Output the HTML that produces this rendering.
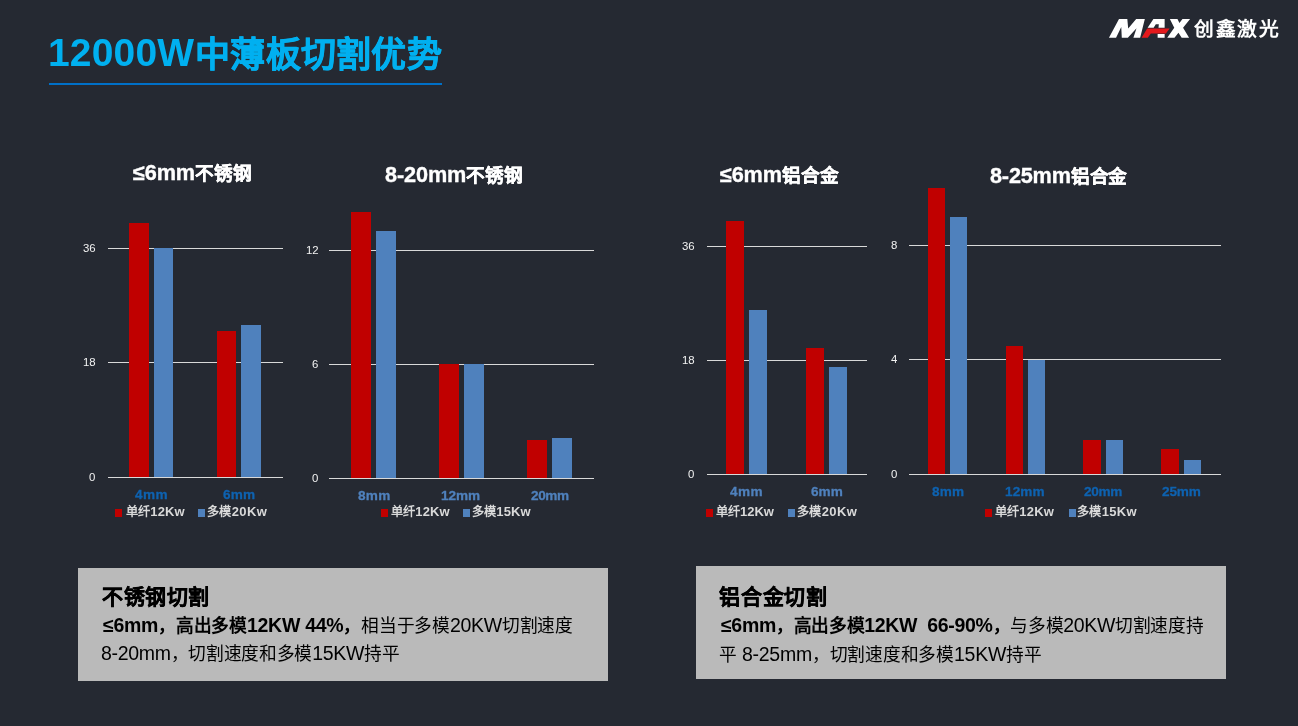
<!DOCTYPE html>
<html lang="zh-CN">
<head>
<meta charset="utf-8">
<style>
*{margin:0;padding:0;box-sizing:border-box}
html,body{width:1298px;height:726px;overflow:hidden;background:#252932}
body{position:relative;font-family:"Liberation Sans",sans-serif;color:#fff}
.a{position:absolute}
.t{white-space:nowrap;line-height:1;will-change:transform}
.gl{height:1px;background:#d9d9d9}
.box{background:#bababa}
</style>
</head>
<body>
<div class="a" style="left:49px;top:83px;width:393px;height:2px;background:#0070c8"></div>
<svg class="a" style="left:1100px;top:10px" width="100" height="40" viewBox="0 0 100 40"><path fill="#fff" fill-rule="evenodd" d="M8.95,27.84 L19.00,8.95 L27.32,8.95 L28.19,18.48 L36.17,8.95 L44.83,8.95 L40.15,27.84 L33.39,27.84 L36.51,18.14 L27.84,27.84 L21.78,27.84 L21.26,17.10 L16.06,27.84 Z M47.61,17.82 L53.42,9.00 L64.64,9.00 L64.64,17.82 Z M55.83,14.21 L58.83,14.21 L58.51,17.82 L53.62,17.82 Z M57.63,24.03 L64.64,24.03 L64.64,27.84 L57.63,27.84 Z M69.85,9.00 L77.46,9.00 L79.46,13.01 L82.47,9.00 L90.08,9.00 L83.07,17.82 L89.08,27.84 L81.67,27.84 L78.46,22.83 L74.46,27.84 L67.24,27.84 L74.26,17.82 Z"/><path fill="#e3191c" d="M41.60,27.84 L47.21,18.42 L69.65,18.42 L65.84,23.43 L50.82,23.43 L47.81,27.84 Z"/></svg>
<div class="a gl" style="left:107.5px;top:248px;width:175.1px"></div>
<div class="a gl" style="left:107.5px;top:362px;width:175.1px"></div>
<div class="a" style="left:129px;top:223px;width:20px;height:254px;background:#c00000"></div>
<div class="a" style="left:154px;top:248px;width:19px;height:229px;background:#4f81bd"></div>
<div class="a" style="left:217px;top:331px;width:19px;height:146px;background:#c00000"></div>
<div class="a" style="left:241px;top:325px;width:20px;height:152px;background:#4f81bd"></div>
<div class="a gl" style="left:107.5px;top:477px;width:175.1px"></div>
<div class="a gl" style="left:329px;top:250px;width:264.6px"></div>
<div class="a gl" style="left:329px;top:364px;width:264.6px"></div>
<div class="a" style="left:351px;top:212px;width:20px;height:266px;background:#c00000"></div>
<div class="a" style="left:376px;top:231px;width:20px;height:247px;background:#4f81bd"></div>
<div class="a" style="left:439px;top:364px;width:20px;height:114px;background:#c00000"></div>
<div class="a" style="left:464px;top:364px;width:20px;height:114px;background:#4f81bd"></div>
<div class="a" style="left:527px;top:440px;width:20px;height:38px;background:#c00000"></div>
<div class="a" style="left:552px;top:438px;width:20px;height:40px;background:#4f81bd"></div>
<div class="a gl" style="left:329px;top:478px;width:264.6px"></div>
<div class="a gl" style="left:706.5px;top:246px;width:160.2px"></div>
<div class="a gl" style="left:706.5px;top:360px;width:160.2px"></div>
<div class="a" style="left:726px;top:221px;width:18px;height:253px;background:#c00000"></div>
<div class="a" style="left:749px;top:310px;width:18px;height:164px;background:#4f81bd"></div>
<div class="a" style="left:806px;top:348px;width:18px;height:126px;background:#c00000"></div>
<div class="a" style="left:829px;top:367px;width:18px;height:107px;background:#4f81bd"></div>
<div class="a gl" style="left:706.5px;top:474px;width:160.2px"></div>
<div class="a gl" style="left:908.5px;top:245px;width:312px"></div>
<div class="a gl" style="left:908.5px;top:359px;width:312px"></div>
<div class="a" style="left:928px;top:188px;width:17px;height:286px;background:#c00000"></div>
<div class="a" style="left:950px;top:217px;width:17px;height:257px;background:#4f81bd"></div>
<div class="a" style="left:1006px;top:346px;width:17px;height:128px;background:#c00000"></div>
<div class="a" style="left:1028px;top:360px;width:17px;height:114px;background:#4f81bd"></div>
<div class="a" style="left:1083px;top:440px;width:18px;height:34px;background:#c00000"></div>
<div class="a" style="left:1106px;top:440px;width:17px;height:34px;background:#4f81bd"></div>
<div class="a" style="left:1161px;top:449px;width:18px;height:25px;background:#c00000"></div>
<div class="a" style="left:1184px;top:460px;width:17px;height:14px;background:#4f81bd"></div>
<div class="a gl" style="left:908.5px;top:474px;width:312px"></div>
<div class="a" style="left:115px;top:509px;width:7px;height:7.5px;background:#c00000"></div>
<div class="a" style="left:198px;top:509px;width:7px;height:7.5px;background:#4f81bd"></div>
<div class="a" style="left:380.5px;top:509px;width:7px;height:7.5px;background:#c00000"></div>
<div class="a" style="left:463.4px;top:509px;width:7px;height:7.5px;background:#4f81bd"></div>
<div class="a" style="left:705.5px;top:509px;width:7px;height:7.5px;background:#c00000"></div>
<div class="a" style="left:788.3px;top:509px;width:7px;height:7.5px;background:#4f81bd"></div>
<div class="a" style="left:985px;top:509px;width:7px;height:7.5px;background:#c00000"></div>
<div class="a" style="left:1068.5px;top:509px;width:7px;height:7.5px;background:#4f81bd"></div>
<div class="a box" style="left:78px;top:568px;width:530px;height:113px"></div>
<div class="a box" style="left:696px;top:566px;width:530px;height:113px"></div>
<div id="t1" class="a t" style="left:48.2px;top:33px;font-size:39px;font-weight:bold;color:#00b0f0;letter-spacing:0.17px">12000W</div>
<div id="t2" class="a t" style="left:195px;top:37.2px;font-size:35px;font-weight:bold;color:#00b0f0;letter-spacing:0.26px"><span style='-webkit-text-stroke:0.6px #00b0f0'>中薄板切割优势</span></div>
<div id="ct1" class="a t" style="left:133px;top:162px;font-size:21.7px;font-weight:bold;color:#ffffff;letter-spacing:-0.14px"><span style='-webkit-text-stroke:0.35px #fff'>≤6mm<span class=c style='font-size:0.86em'>不锈钢</span></span></div>
<div id="ct2" class="a t" style="left:385px;top:164.4px;font-size:21.7px;font-weight:bold;color:#ffffff;letter-spacing:-0.13px"><span style='-webkit-text-stroke:0.35px #fff'>8-20mm<span class=c style='font-size:0.86em'>不锈钢</span></span></div>
<div id="ct3" class="a t" style="left:720px;top:164.3px;font-size:21.7px;font-weight:bold;color:#ffffff;letter-spacing:-0.17px"><span style='-webkit-text-stroke:0.35px #fff'>≤6mm<span class=c style='font-size:0.86em'>铝合金</span></span></div>
<div id="ct4" class="a t" style="left:990px;top:164.5px;font-size:21.7px;font-weight:bold;color:#ffffff;letter-spacing:-0.2px"><span style='-webkit-text-stroke:0.35px #fff'>8-25mm<span class=c style='font-size:0.86em'>铝合金</span></span></div>
<div id="x1a" class="a t" style="left:135.4px;top:488.31px;font-size:13.6px;font-weight:bold;color:#0e62b0;letter-spacing:0.4px"><span style='-webkit-text-stroke:0.3px #0e62b0'>4mm</span></div>
<div id="x1b" class="a t" style="left:223.4px;top:488.31px;font-size:13.6px;font-weight:bold;color:#0e62b0;letter-spacing:0.13px"><span style='-webkit-text-stroke:0.3px #0e62b0'>6mm</span></div>
<div id="x2a" class="a t" style="left:357.6px;top:488.9px;font-size:13.6px;font-weight:bold;color:#4f81bd;letter-spacing:0.27px"><span style='-webkit-text-stroke:0.3px #4f81bd'>8mm</span></div>
<div id="x2b" class="a t" style="left:441.2px;top:488.9px;font-size:13.6px;font-weight:bold;color:#4f81bd;letter-spacing:-0.05px"><span style='-webkit-text-stroke:0.3px #4f81bd'>12mm</span></div>
<div id="x2c" class="a t" style="left:530.8px;top:488.9px;font-size:13.6px;font-weight:bold;color:#4f81bd;letter-spacing:-0.4px"><span style='-webkit-text-stroke:0.3px #4f81bd'>20mm</span></div>
<div id="x3a" class="a t" style="left:729.7px;top:485.3px;font-size:13.6px;font-weight:bold;color:#4f81bd;letter-spacing:0.4px"><span style='-webkit-text-stroke:0.3px #4f81bd'>4mm</span></div>
<div id="x3b" class="a t" style="left:810.6px;top:485.3px;font-size:13.6px;font-weight:bold;color:#4f81bd"><span style='-webkit-text-stroke:0.3px #4f81bd'>6mm</span></div>
<div id="x4a" class="a t" style="left:932.3px;top:485.05px;font-size:13.6px;font-weight:bold;color:#0e62b0;letter-spacing:0.13px"><span style='-webkit-text-stroke:0.3px #0e62b0'>8mm</span></div>
<div id="x4b" class="a t" style="left:1005.1px;top:485.05px;font-size:13.6px;font-weight:bold;color:#0e62b0;letter-spacing:0.1px"><span style='-webkit-text-stroke:0.3px #0e62b0'>12mm</span></div>
<div id="x4c" class="a t" style="left:1084.1px;top:485.05px;font-size:13.6px;font-weight:bold;color:#0e62b0;letter-spacing:-0.3px"><span style='-webkit-text-stroke:0.3px #0e62b0'>20mm</span></div>
<div id="x4d" class="a t" style="left:1162.3px;top:485.05px;font-size:13.6px;font-weight:bold;color:#0e62b0;letter-spacing:-0.15px"><span style='-webkit-text-stroke:0.3px #0e62b0'>25mm</span></div>
<div id="l1a" class="a t" style="left:126.2px;top:505.4px;font-size:13px;font-weight:bold;color:#d9d9d9;letter-spacing:0.13px"><span class=c style='font-size:0.94em'>单纤</span>12Kw</div>
<div id="l1b" class="a t" style="left:207.4px;top:505.4px;font-size:13px;font-weight:bold;color:#d9d9d9;letter-spacing:0.37px"><span class=c style='font-size:0.94em'>多模</span>20Kw</div>
<div id="l2a" class="a t" style="left:391.2px;top:505.4px;font-size:13px;font-weight:bold;color:#d9d9d9;letter-spacing:0.13px"><span class=c style='font-size:0.94em'>单纤</span>12Kw</div>
<div id="l2b" class="a t" style="left:472.2px;top:505.4px;font-size:13px;font-weight:bold;color:#d9d9d9;letter-spacing:0.13px"><span class=c style='font-size:0.94em'>多模</span>15Kw</div>
<div id="l3a" class="a t" style="left:716.4px;top:505.4px;font-size:13px;font-weight:bold;color:#d9d9d9"><span class=c style='font-size:0.94em'>单纤</span>12Kw</div>
<div id="l3b" class="a t" style="left:797.4px;top:505.4px;font-size:13px;font-weight:bold;color:#d9d9d9;letter-spacing:0.37px"><span class=c style='font-size:0.94em'>多模</span>20Kw</div>
<div id="l4a" class="a t" style="left:995.2px;top:505.4px;font-size:13px;font-weight:bold;color:#d9d9d9;letter-spacing:0.17px"><span class=c style='font-size:0.94em'>单纤</span>12Kw</div>
<div id="l4b" class="a t" style="left:1077px;top:505.4px;font-size:13px;font-weight:bold;color:#d9d9d9;letter-spacing:0.33px"><span class=c style='font-size:0.94em'>多模</span>15Kw</div>
<div id="bt1" class="a t" style="left:102.4px;top:586.2px;font-size:21px;font-weight:bold;color:#000000;letter-spacing:0.58px"><span style='-webkit-text-stroke:0.4px #000'>不锈钢切割</span></div>
<div id="bt2" class="a t" style="left:719.2px;top:585.8px;font-size:21px;font-weight:bold;color:#000000;letter-spacing:0.82px"><span style='-webkit-text-stroke:0.4px #000'>铝合金切割</span></div>
<div id="b1a" class="a t" style="left:103px;top:616.1px;font-size:19.5px;font-weight:normal;color:#000000;letter-spacing:-0.26px"><b>≤6mm<span class=c style='font-size:0.908em'>，高出多模</span>12KW 44%<span class=c style='font-size:0.908em'>，</span></b><span class=c style='font-size:0.908em'>相当于多模</span>20KW<span class=c style='font-size:0.908em'>切割速度</span></div>
<div id="b1b" class="a t" style="left:101px;top:644.4px;font-size:19.5px;font-weight:normal;color:#000000;letter-spacing:-0.31px">8-20mm<span class=c style='font-size:0.908em'>，切割速度和多模</span>15KW<span class=c style='font-size:0.908em'>持平</span></div>
<div id="b2a" class="a t" style="left:721px;top:615.6px;font-size:19.5px;font-weight:normal;color:#000000;letter-spacing:-0.33px"><b>≤6mm<span class=c style='font-size:0.908em'>，高出多模</span>12KW&nbsp; 66-90%<span class=c style='font-size:0.908em'>，</span></b><span class=c style='font-size:0.908em'>与多模</span>20KW<span class=c style='font-size:0.908em'>切割速度持</span></div>
<div id="b2b" class="a t" style="left:719px;top:644.7px;font-size:19.5px;font-weight:normal;color:#000000;letter-spacing:-0.25px"><span class=c style='font-size:0.908em'>平</span> 8-25mm<span class=c style='font-size:0.908em'>，切割速度和多模</span>15KW<span class=c style='font-size:0.908em'>持平</span></div>
<div id="y10" class="a t" style="left:83px;top:242.6px;font-size:11.4px;font-weight:normal;color:#f2f2f2">36</div>
<div id="y11" class="a t" style="left:83px;top:356.6px;font-size:11.4px;font-weight:normal;color:#f2f2f2">18</div>
<div id="y12" class="a t" style="left:89px;top:471.7px;font-size:11.4px;font-weight:normal;color:#f2f2f2">0</div>
<div id="y20" class="a t" style="left:305.8px;top:245.4px;font-size:11.4px;font-weight:normal;color:#f2f2f2">12</div>
<div id="y21" class="a t" style="left:311.8px;top:358.6px;font-size:11.4px;font-weight:normal;color:#f2f2f2">6</div>
<div id="y22" class="a t" style="left:311.8px;top:472.8px;font-size:11.4px;font-weight:normal;color:#f2f2f2">0</div>
<div id="y30" class="a t" style="left:682.2px;top:240.6px;font-size:11.4px;font-weight:normal;color:#f2f2f2">36</div>
<div id="y31" class="a t" style="left:682.2px;top:355.4px;font-size:11.4px;font-weight:normal;color:#f2f2f2">18</div>
<div id="y32" class="a t" style="left:688.2px;top:468.6px;font-size:11.4px;font-weight:normal;color:#f2f2f2">0</div>
<div id="y40" class="a t" style="left:891px;top:239.5px;font-size:11.4px;font-weight:normal;color:#f2f2f2">8</div>
<div id="y41" class="a t" style="left:891px;top:353.9px;font-size:11.4px;font-weight:normal;color:#f2f2f2">4</div>
<div id="y42" class="a t" style="left:891px;top:468.8px;font-size:11.4px;font-weight:normal;color:#f2f2f2">0</div>
<div id="lg" class="a t" style="left:1194.2px;top:19.8px;font-size:19.8px;font-weight:bold;color:#ffffff;letter-spacing:1.55px">创鑫激光</div>
</body>
</html>
